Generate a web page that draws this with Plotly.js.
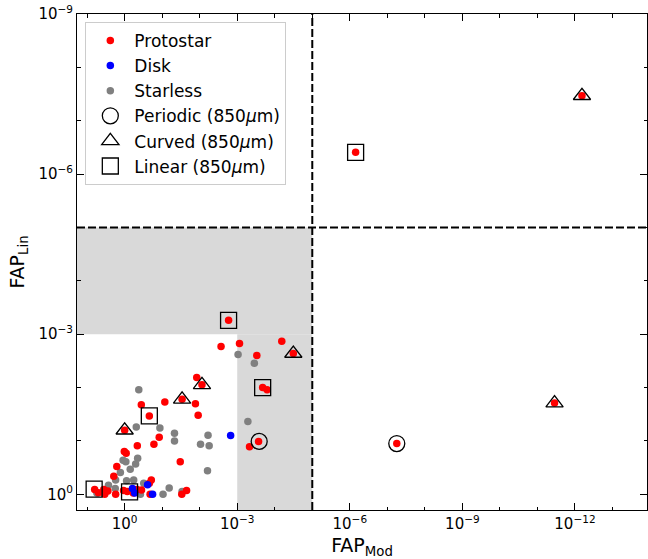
<!DOCTYPE html>
<html>
<head>
<meta charset="utf-8">
<script src="https://cdn.plot.ly/plotly-3.0.1.min.js"></script>
<style>html,body{margin:0;padding:0;background:#fff;}#chart{width:648px;height:559px;}</style>
</head>
<body>
<div id="chart"></div>
<script>
// ---- data (FAP values) ----
var protostarX = [1.7e-3, 2.7e-3, 8.7e-4, 6.5e-5, 3.2e-5, 3.0e-4, 2.1e-4, 1.6e-4, 1.2e-2, 8.7e-3,
                  2.95e-2, 1.3e-2, 1.1e-2, 8.5e-2, 0.36, 0.22, 1.0, 0.12, 0.166, 0.46,
                  1.02, 0.91, 3.3e-2, 1.62, 1.95, 4.7e-4, 2.7e-4, 0.195, 6.3, 3.6,
                  2.8, 3.4, 1.74, 1.07, 0.85, 0.47, 0.22, 0.21, 3.0e-2, 2.24e-2,
                  0.59, 0.355, 5.0, 7.0e-7, 6.5e-13, 5.6e-8, 3.5e-12];
var protostarY = [5.5e-4, 1.7e-3, 1.5e-3, 1.35e-3, 2.3e-3, 2.5e-3, 1.0e-2, 1.1e-2, 6.5e-3, 8.9e-3,
                  1.66e-2, 2.0e-2, 3.3e-2, 1.86e-2, 2.1e-2, 3.4e-2, 6.3e-2, 8.5e-2, 0.115, 0.123,
                  0.158, 0.17, 0.245, 0.30, 0.457, 0.129, 0.102, 0.537, 0.81, 0.81,
                  0.87, 1.0, 1.0, 0.85, 0.89, 0.81, 0.62, 1.0, 1.0, 0.85,
                  0.95, 0.83, 0.93, 3.9e-7, 3.4e-8, 0.112, 1.95e-2];

var diskX = [1.5e-3, 0.62, 0.54, 0.245, 0.18];
var diskY = [7.9e-2, 0.78, 0.95, 0.66, 1.0];

var starlessX = [0.42, 0.49, 0.115, 4.7e-2, 4.7e-2, 6.0e-3, 9.5e-3, 5.6e-3, 6.2e-3, 9.5e-4,
                 3.5e-4, 5.2e-4, 0.45, 0.51, 0.71, 1.1, 0.93, 1.3, 1.74, 2.7,
                 0.89, 0.575, 5.5, 9.5e-2, 6.5e-2, 0.31, 0.38, 1.78, 2.95e-2];
var starlessY = [1.1e-2, 5.5e-2, 5.75e-2, 7.2e-2, 0.10, 7.8e-2, 0.115, 0.123, 0.363, 2.4e-3,
                 3.5e-3, 4.3e-2, 0.21, 0.27, 0.34, 0.23, 0.245, 0.39, 0.54, 0.68,
                 0.56, 0.54, 0.95, 1.0, 0.76, 0.62, 1.0, 0.78, 0.89];

var periodicX = [5.6e-8, 2.6e-4];
var periodicY = [0.112, 0.102];

var curvedX = [6.5e-13, 3.5e-12, 3.2e-5, 8.7e-3, 2.95e-2, 1.0];
var curvedY = [3.4e-8, 1.95e-2, 2.3e-3, 8.9e-3, 1.66e-2, 6.3e-2];

var linearX = [7.0e-7, 1.7e-3, 2.1e-4, 0.22, 6.5, 0.74];
var linearY = [3.9e-7, 5.5e-4, 1.0e-2, 3.4e-2, 0.8, 0.9];

// thresholds
var fapCut = 1e-5;
var fapLow = 1e-3;

// ticks
var xTickVals = [1, 1e-3, 1e-6, 1e-9, 1e-12];
var xTickText = ['10<sup>0</sup>', '10<sup>−3</sup>', '10<sup>−6</sup>', '10<sup>−9</sup>', '10<sup>−12</sup>'];
var yTickVals = [1, 1e-3, 1e-6, 1e-9];
var yTickText = ['10<sup>0</sup>', '10<sup>−3</sup>', '10<sup>−6</sup>', '10<sup>−9</sup>'];
var xMinorVals = [10, 1e-1, 1e-2, 1e-4, 1e-5, 1e-7, 1e-8, 1e-10, 1e-11, 1e-13];
var yMinorVals = [1e-1, 1e-2, 1e-4, 1e-5, 1e-7, 1e-8];

var xRange = [1.27, -13.92];
var yRange = [0.294, -9];

var dot = 7.5;
var big = 16;

var traces = [
  {x: starlessX, y: starlessY, name: 'Starless', type: 'scatter', mode: 'markers', legendrank: 3,
   marker: {color: '#808080', size: dot, line: {width: 0}}},
  {x: protostarX, y: protostarY, name: 'Protostar', type: 'scatter', mode: 'markers', legendrank: 1,
   marker: {color: '#ff0000', size: dot, line: {width: 0}}},
  {x: diskX, y: diskY, name: 'Disk', type: 'scatter', mode: 'markers', legendrank: 2,
   marker: {color: '#0000ff', size: dot, line: {width: 0}}},
  {x: periodicX, y: periodicY, name: 'Periodic (850<i>μ</i>m)', type: 'scatter', mode: 'markers', legendrank: 4,
   marker: {symbol: 'circle-open', color: '#000', size: big, line: {width: 1.3, color: '#000'}}},
  {x: curvedX, y: curvedY, name: 'Curved (850<i>μ</i>m)', type: 'scatter', mode: 'markers', legendrank: 5,
   marker: {symbol: 'triangle-up-open', color: '#000', size: 15, line: {width: 1.3, color: '#000'}}},
  {x: linearX, y: linearY, name: 'Linear (850<i>μ</i>m)', type: 'scatter', mode: 'markers', legendrank: 6,
   marker: {symbol: 'square-open', color: '#000', size: big, line: {width: 1.3, color: '#000'}}}
];

var xLo = Math.pow(10, xRange[0]), xHi = Math.pow(10, xRange[1]);
var yLo = Math.pow(10, yRange[0]), yHi = Math.pow(10, yRange[1]);

var shapes = [
  {type: 'rect', xref: 'x', yref: 'y', x0: xLo, x1: fapCut, y0: fapLow, y1: fapCut,
   fillcolor: '#d9d9d9', line: {width: 0}, layer: 'below'},
  {type: 'rect', xref: 'x', yref: 'y', x0: fapLow, x1: fapCut, y0: yLo, y1: fapLow,
   fillcolor: '#d9d9d9', line: {width: 0}, layer: 'below'},
  {type: 'line', xref: 'x', yref: 'y', x0: fapCut, x1: fapCut, y0: yLo, y1: yHi,
   line: {color: '#000', width: 2, dash: '8px,3px'}, layer: 'above'},
  {type: 'line', xref: 'x', yref: 'y', x0: xLo, x1: xHi, y0: fapCut, y1: fapCut,
   line: {color: '#000', width: 2, dash: '8px,3px'}, layer: 'above'}
];

var axisCommon = {
  type: 'log', showgrid: false, zeroline: false, showline: true, linecolor: '#000', linewidth: 1,
  mirror: 'ticks', ticks: 'inside', ticklen: 7, tickwidth: 1, tickcolor: '#000',
  tickmode: 'array', tickfont: {family: 'DejaVu Sans', size: 15, color: '#000'},
  minor: {tickmode: 'array', ticks: 'inside', ticklen: 3.5, tickwidth: 1, tickcolor: '#000', showgrid: false}
};

var xaxis = Object.assign({}, axisCommon, {
  range: xRange, tickvals: xTickVals, ticktext: xTickText,
  title: {text: 'FAP<sub>Mod</sub>', font: {family: 'DejaVu Sans', size: 19, color: '#000'}, standoff: 6}
});
xaxis.minor = Object.assign({}, axisCommon.minor, {tickvals: xMinorVals});

var yaxis = Object.assign({}, axisCommon, {
  range: yRange, tickvals: yTickVals, ticktext: yTickText,
  title: {text: 'FAP<sub>Lin</sub>', font: {family: 'DejaVu Sans', size: 19, color: '#000'}, standoff: 8}
});
yaxis.minor = Object.assign({}, axisCommon.minor, {tickvals: yMinorVals});

var layout = {
  width: 648, height: 559,
  margin: {l: 77, r: 1, t: 14, b: 49},
  paper_bgcolor: '#fff', plot_bgcolor: '#fff',
  font: {family: 'DejaVu Sans', color: '#000'},
  xaxis: xaxis, yaxis: yaxis,
  shapes: shapes,
  showlegend: true,
  legend: {x: 0.0146, y: 0.984, xanchor: 'left', yanchor: 'top',
           bgcolor: 'rgba(255,255,255,0.85)', bordercolor: '#cccccc', borderwidth: 1,
           font: {family: 'DejaVu Sans', size: 17, color: '#000'},
           itemwidth: 38, tracegroupgap: 0}
};

Plotly.newPlot('chart', traces, layout, {displayModeBar: false, staticPlot: true});
</script>
</body>
</html>
